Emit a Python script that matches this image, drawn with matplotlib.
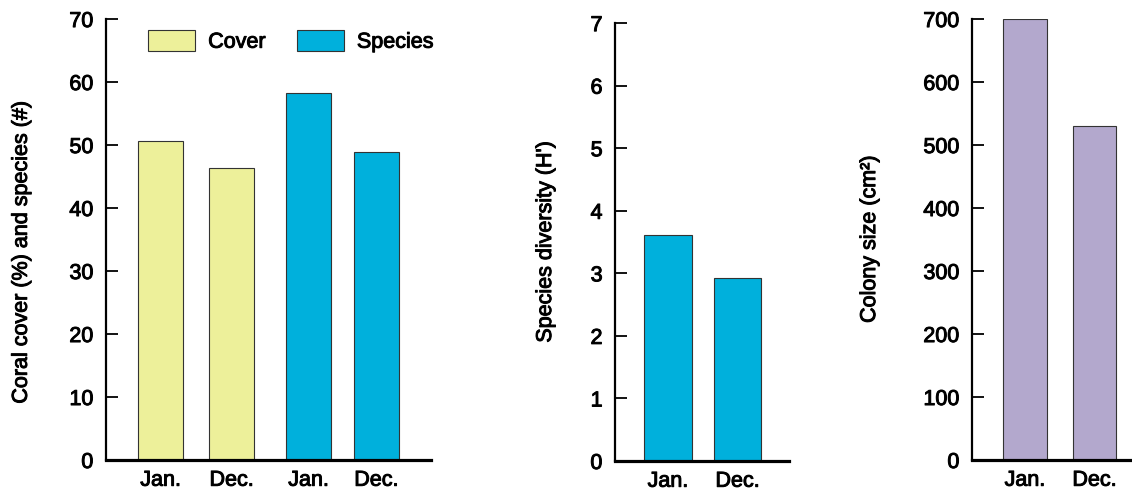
import matplotlib.pyplot as plt
import matplotlib.patheffects as pe
from matplotlib.patches import Patch

plt.rcParams['font.family'] = ['Liberation Sans', 'DejaVu Sans']
plt.rcParams['font.size'] = 15.5

# panel 1: coral cover and species count
months = ['Jan.', 'Dec.']
cover = [50.6, 46.3]
species = [58.3, 48.9]

# panel 2: species diversity
diversity = [3.61, 2.93]

# panel 3: colony size
colony = [700, 531]

yellow = '#EDF09A'
blue = '#00B0DC'
purple = '#B3A8CD'
edge = '#333333'
heavy = [pe.withStroke(linewidth=0.7, foreground='black')]

fig = plt.figure(figsize=(11.32, 4.92), dpi=100)


def style(ax, ymax, step):
    ax.spines['top'].set_visible(False)
    ax.spines['right'].set_visible(False)
    ax.spines['left'].set_linewidth(1.6)
    ax.spines['bottom'].set_linewidth(2.3)
    ax.spines['bottom'].set_clip_on(False)
    ax.set_ylim(0, ymax)
    ax.set_yticks(range(0, ymax + 1, step))
    ax.tick_params(axis='y', direction='in', length=8.5, width=1.3, pad=9)
    ax.tick_params(axis='x', length=0, pad=7)
    for t in ax.get_xticklabels() + ax.get_yticklabels():
        t.set_path_effects(heavy)
    ax.yaxis.label.set_path_effects(heavy)


ax1 = fig.add_axes([0.0936, 0.065, 0.2871, 0.8963])
pos1 = [0, 1, 2.085, 3.04]
ax1.bar(pos1[:2], cover, width=0.63, color=yellow, edgecolor=edge, linewidth=0.8)
ax1.bar(pos1[2:], species, width=0.63, color=blue, edgecolor=edge, linewidth=0.8)
ax1.set_xlim(-0.77, 3.81)
ax1.set_xticks(pos1)
ax1.set_xticklabels(months + months)
ax1.set_ylabel('Coral cover (%) and species (#)')
style(ax1, 70, 10)
ax1.yaxis.set_label_coords(-0.228, 0.47)
handles = [Patch(facecolor=yellow, edgecolor=edge, linewidth=0.8),
           Patch(facecolor=blue, edgecolor=edge, linewidth=0.8)]
leg = ax1.legend(handles, ['Cover', 'Species'], ncol=2, loc='upper left',
                 bbox_to_anchor=(0.129, 0.975), frameon=False,
                 handlelength=2.2, handleheight=1.1, handletextpad=0.6,
                 columnspacing=1.45, borderpad=0, borderaxespad=0)
for t in leg.get_texts():
    t.set_path_effects(heavy)

ax2 = fig.add_axes([0.5433, 0.063, 0.1537, 0.890])
ax2.bar([0, 1], diversity, width=0.68, color=blue, edgecolor=edge, linewidth=0.8)
ax2.set_xlim(-0.76, 1.74)
ax2.set_xticks([0, 1])
ax2.set_xticklabels(months)
ax2.set_ylabel("Species diversity (H')")
style(ax2, 7, 1)
ax2.yaxis.set_label_coords(-0.339, 0.5)

ax3 = fig.add_axes([0.8587, 0.065, 0.1413, 0.8963])
ax3.bar([0, 1], colony, width=0.63, color=purple, edgecolor=edge, linewidth=0.8)
ax3.set_xlim(-0.76, 1.54)
ax3.set_xticks([0, 1])
ax3.set_xticklabels(months)
ax3.set_ylabel('Colony size (cm²)')
style(ax3, 700, 100)
ax3.yaxis.set_label_coords(-0.575, 0.5)

fig.savefig('out.png', dpi=100)
